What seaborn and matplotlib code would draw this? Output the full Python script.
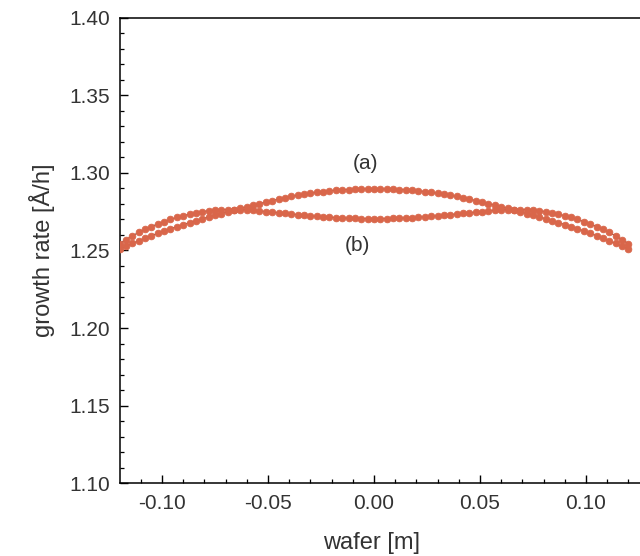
import numpy as np
import pandas as pd
import matplotlib
matplotlib.use("Agg")
import matplotlib.pyplot as plt
from matplotlib.ticker import MultipleLocator
import seaborn as sns

# ---- data ----
wafer = [round(-0.120 + 0.003 * i, 3) for i in range(81)]

rate_a = [
    1.2509, 1.2527, 1.2545, 1.2562, 1.2579, 1.2595, 1.2611, 1.2626, 1.2640, 1.2654,
    1.2667, 1.2680, 1.2692, 1.2704, 1.2716, 1.2727, 1.2738, 1.2749, 1.2760, 1.2771,
    1.2782, 1.2792, 1.2802, 1.2812, 1.2822, 1.2831, 1.2840, 1.2848, 1.2856, 1.2863,
    1.2869, 1.2875, 1.2880, 1.2884, 1.2888, 1.2891, 1.2893, 1.2895, 1.2896, 1.2897,
    1.2897,
    1.2897, 1.2896, 1.2895, 1.2893, 1.2891, 1.2888, 1.2884, 1.2880, 1.2875, 1.2869,
    1.2863, 1.2856, 1.2848, 1.2840, 1.2831, 1.2822, 1.2812, 1.2802, 1.2792, 1.2782,
    1.2771, 1.2760, 1.2749, 1.2738, 1.2727, 1.2716, 1.2704, 1.2692, 1.2680, 1.2667,
    1.2654, 1.2640, 1.2626, 1.2611, 1.2595, 1.2579, 1.2562, 1.2545, 1.2527, 1.2509,
]

rate_b = [
    1.2544, 1.2570, 1.2594, 1.2616, 1.2636, 1.2654, 1.2671, 1.2686, 1.2700, 1.2713,
    1.2724, 1.2734, 1.2743, 1.2750, 1.2756, 1.2760, 1.2763, 1.2764, 1.2764, 1.2763,
    1.2761, 1.2758, 1.2755, 1.2751, 1.2747, 1.2743, 1.2739, 1.2735, 1.2731, 1.2727,
    1.2723, 1.2720, 1.2717, 1.2714, 1.2712, 1.2710, 1.2708, 1.2707, 1.2706, 1.2705,
    1.2705,
    1.2705, 1.2706, 1.2707, 1.2708, 1.2710, 1.2712, 1.2714, 1.2717, 1.2720, 1.2723,
    1.2727, 1.2731, 1.2735, 1.2739, 1.2743, 1.2747, 1.2751, 1.2755, 1.2758, 1.2761,
    1.2763, 1.2764, 1.2764, 1.2763, 1.2760, 1.2756, 1.2750, 1.2743, 1.2734, 1.2724,
    1.2713, 1.2700, 1.2686, 1.2671, 1.2654, 1.2636, 1.2616, 1.2594, 1.2570, 1.2544,
]

x_ticks = [-0.10, -0.05, 0.00, 0.05, 0.10]
y_ticks = [1.10, 1.15, 1.20, 1.25, 1.30, 1.35, 1.40]
label_a = "(a)"
label_b = "(b)"

df_a = pd.DataFrame({"wafer": wafer, "rate": rate_a})
df_b = pd.DataFrame({"wafer": wafer, "rate": rate_b})

# ---- style ----
sns.set_theme(style="ticks")
plt.rcParams["font.family"] = ["Liberation Sans", "DejaVu Sans"]

fig = plt.figure(figsize=(6.4, 5.56), dpi=100)
ax = fig.add_axes([0.1875, 0.131, 0.8125, 0.837])

marker_col = "#d9664a"
line_col = "#5a3a32"
for d in (df_a, df_b):
    sns.lineplot(data=d, x="wafer", y="rate", ax=ax, color=line_col,
                 linewidth=0.8, marker="o", markersize=4.8,
                 markerfacecolor=marker_col, markeredgecolor=marker_col,
                 markeredgewidth=0.6, zorder=3)

ax.text(-0.004, 1.306, label_a, ha="center", va="center", fontsize=15, color="#333333")
ax.text(-0.008, 1.253, label_b, ha="center", va="center", fontsize=15, color="#333333")

ax.set_xlim(-0.1198, 0.1255)
ax.set_ylim(1.10, 1.40)
ax.set_xticks(x_ticks)
ax.set_yticks(y_ticks)
ax.set_xticklabels([f"{v:.2f}" for v in x_ticks])
ax.set_yticklabels([f"{v:.2f}" for v in y_ticks])
ax.xaxis.set_minor_locator(MultipleLocator(0.01))
ax.yaxis.set_minor_locator(MultipleLocator(0.01))
ax.tick_params(which="major", direction="in", length=6, width=1.0, color="black",
               labelsize=15, labelcolor="#333333")
ax.tick_params(axis="x", which="major", pad=8)
ax.tick_params(axis="y", which="major", pad=7)
ax.tick_params(which="minor", direction="in", length=3, width=0.9, color="black")

for s in ("left", "bottom", "top"):
    ax.spines[s].set_visible(True)
    ax.spines[s].set_color("black")
    ax.spines[s].set_linewidth(1.1)
ax.spines["right"].set_visible(False)

ax.set_xlabel("wafer [m]", fontsize=17, color="#333333")
ax.set_ylabel("growth rate [Å/h]", fontsize=17, color="#333333")
ax.xaxis.set_label_coords(0.484, -0.105)
ax.yaxis.set_label_coords(-0.125, 0.5)
ax.grid(False)
ax.set_facecolor("white")
fig.patch.set_facecolor("white")

fig.savefig("out.png", dpi=100)
